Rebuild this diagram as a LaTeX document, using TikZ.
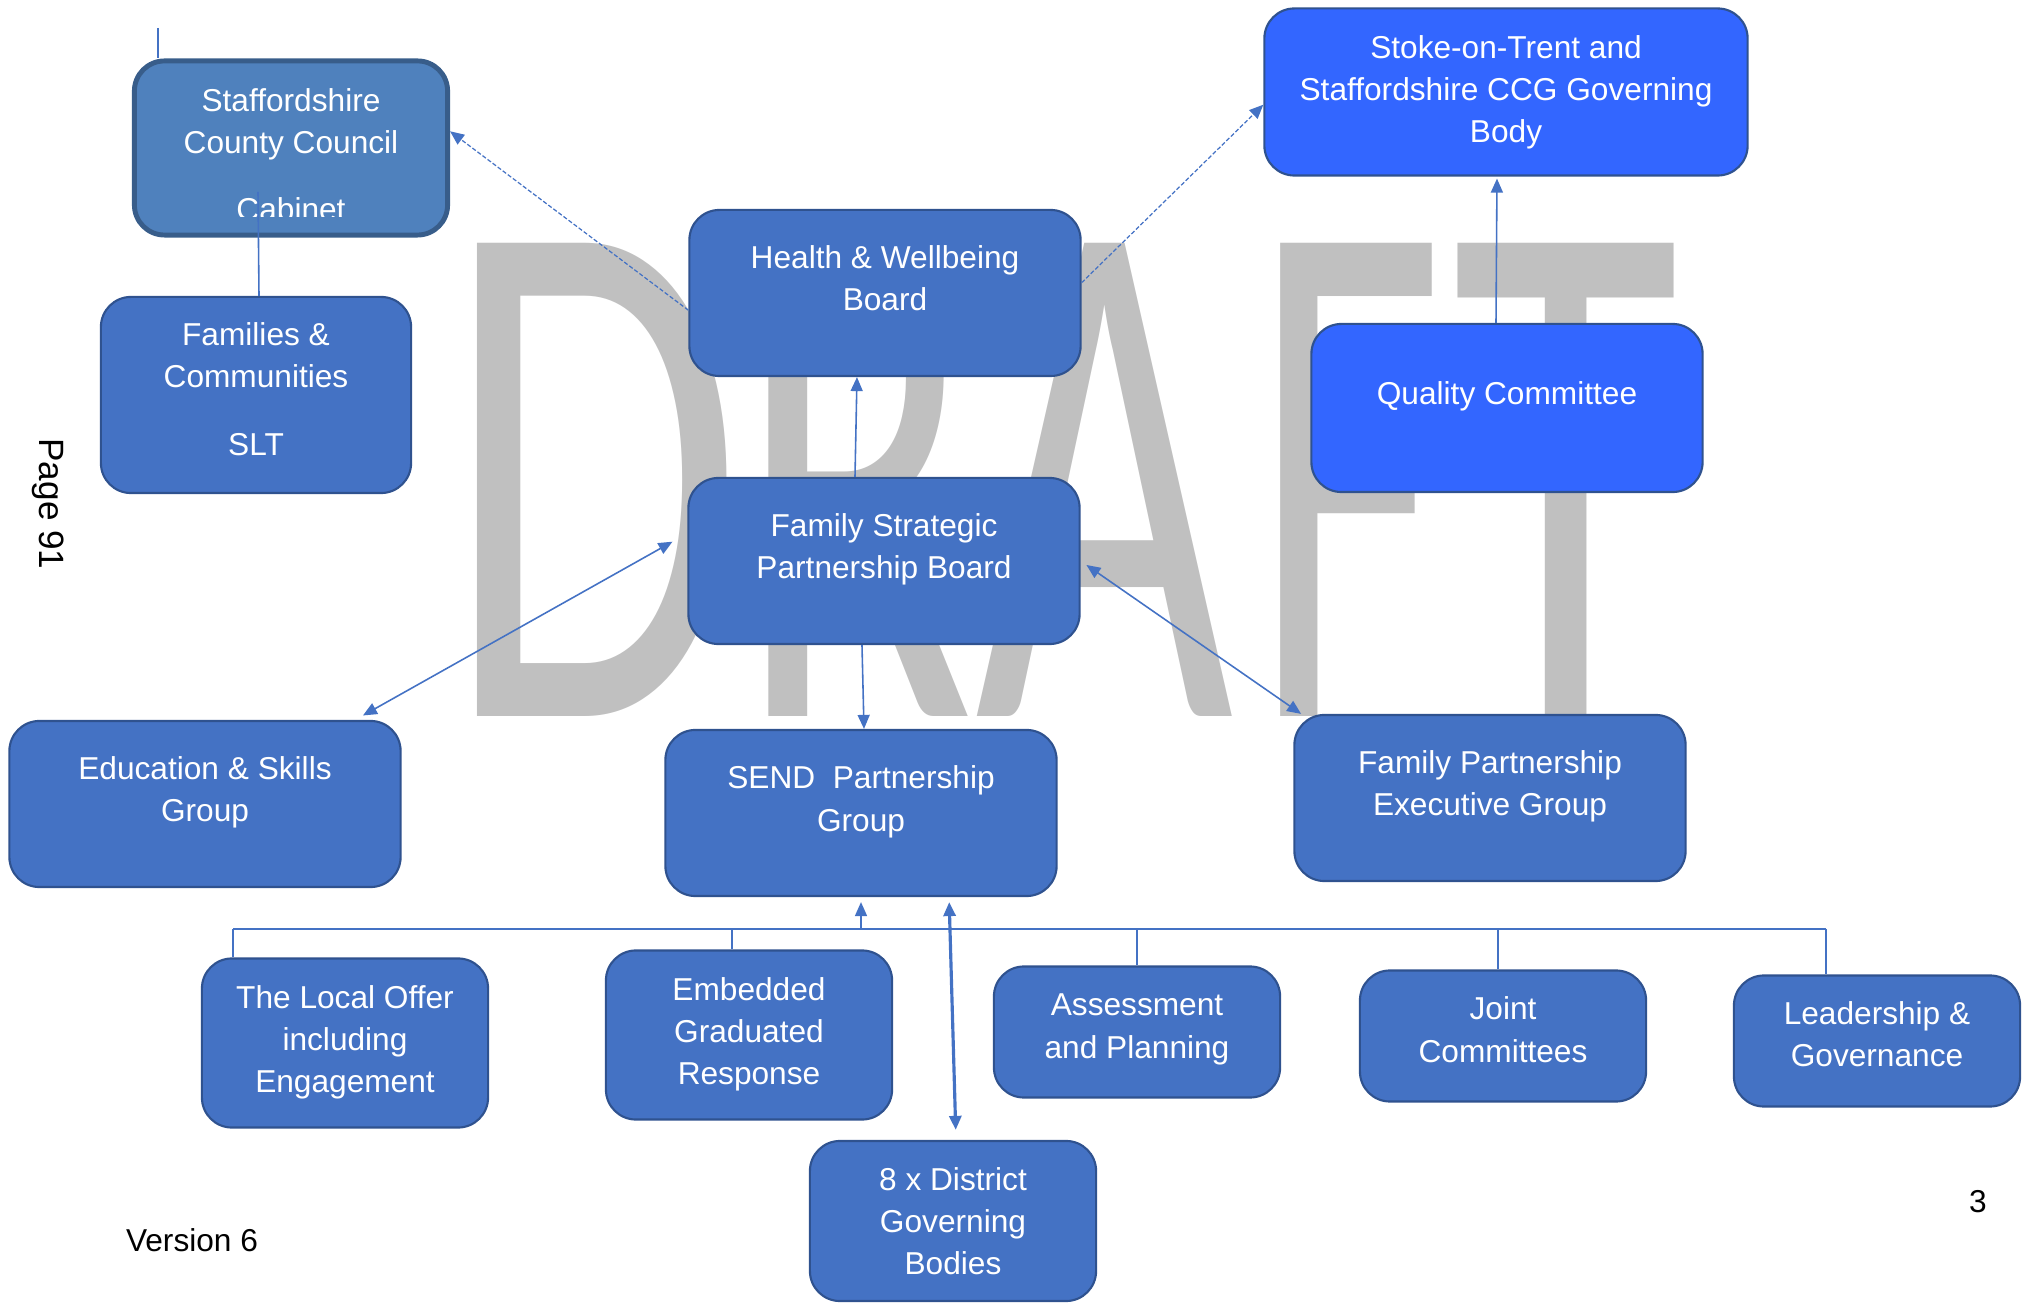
\documentclass[tikz,border=0pt]{standalone}
\usepackage{fontspec}
\setmainfont{Liberation Sans}
\newfontfamily\draftfont{Carlito}
\usetikzlibrary{positioning,calc,arrows.meta}

\definecolor{orgfill}{HTML}{4472C4}
\definecolor{orgline}{HTML}{2F528F}
\definecolor{ccgfill}{HTML}{3366FF}
\definecolor{cabfill}{HTML}{4F81BD}
\definecolor{cabline}{HTML}{385D8A}
\definecolor{wmgrey}{HTML}{C0C0C0}

\begin{document}
\begin{tikzpicture}[x=0.01cm,y=-0.01cm,
    >={Triangle[length=0.14cm,width=0.12cm]},
    org/.style={draw=orgline,line width=0.6pt,fill=orgfill,rounded corners=0.3cm,
        text=white,align=center,inner sep=0pt,font=\fontsize{9}{12}\selectfont,
        text height=6.3pt},
    two/.style={text height=18.3pt},
    three/.style={text height=36pt},
    wide/.style={org,minimum width=3.91cm,minimum height=1.66cm},
    narrow/.style={org,minimum width=2.86cm,minimum height=1.69cm},
    low/.style={narrow,minimum height=1.31cm},
    link/.style={draw=orgfill,line width=0.45pt,->},
    twoway/.style={link,<->},
    dotlink/.style={link,line width=0.35pt,dash pattern=on 1.2pt off 0.6pt},
    stem/.style={draw=orgfill,line width=0.45pt},
    wm/.style={text=wmgrey,inner sep=0pt,anchor=base,font=\draftfont\fontsize{138}{138}\selectfont}]

    \useasboundingbox (0,0) rectangle (2033,1304);

    % watermark behind everything
    \foreach \ch/\cx/\sx in {D/594/1,R/856/0.9,A/1105/0.92,F/1348/0.86,T/1566/0.96}
        \node[wm] (wm\ch) at (\cx,717) {\scalebox{\sx}[1.52]{\ch}};

    % boards and groups
    \node[org,fill=cabfill,draw=cabline,line width=1.4pt,minimum width=3.13cm,minimum height=1.74cm,
        text height=44pt,text depth=3pt]
        (cabinet) at (291,148) {Staffordshire\\County Council\\[7pt]Cabinet};
    \node[org,minimum width=3.10cm,minimum height=1.96cm,text height=42.3pt,text depth=7.7pt]
        (families) at (256,395) {Families \&\\Communities\\[7.5pt]SLT};
    \node[wide,two,text depth=8.5pt] (hwb) at (885,293) {Health \& Wellbeing\\Board};
    \node[wide,three,fill=ccgfill,minimum width=4.83cm,minimum height=1.67cm,text depth=7.3pt]
        (ccg) at (1506,92) {Stoke-on-Trent and\\Staffordshire CCG Governing\\Body};
    \node[wide,fill=ccgfill,minimum height=1.68cm,text depth=8.5pt] (quality) at (1507,408) {Quality Committee};
    \node[wide,two,text depth=8.5pt] (fspb) at (884,561) {Family Strategic\\Partnership Board};
    \node[wide,two,text depth=8.5pt] (edu) at (205,804) {Education \& Skills\\Group};
    \node[wide,two,text depth=8pt] (send) at (861,813) {SEND\ \ Partnership\\Group};
    \node[wide,two,text depth=8.5pt] (fpeg) at (1490,798) {Family Partnership\\Executive Group};

    % workstreams under SEND
    \node[narrow,three,text depth=7.9pt] (offer) at (345,1043) {The Local Offer\\including\\Engagement};
    \node[narrow,three,text depth=7.9pt] (graduated) at (749,1035) {Embedded\\Graduated\\Response};
    \node[low,two,text depth=3.4pt] (assess) at (1137,1032) {Assessment\\and Planning};
    \node[low,two,text depth=3.4pt] (joint) at (1503,1036) {Joint\\Committees};
    \node[low,two,text depth=3.9pt] (leads) at (1877,1041) {Leadership \&\\Governance};
    \node[narrow,three,minimum height=1.60cm,text depth=5.6pt] (district) at (953,1221) {8 x District\\Governing\\Bodies};

    % cut off the lower part of the last cabinet line
    \fill[cabfill] ($(cabinet.south)+(-70,-6)$) rectangle ($(cabinet.south)+(70,-21)$);

    % links between boards
    \coordinate (stub) at (158,28);
    \draw[stem] (stub) -- (stub |- cabinet.north);
    \draw[stem] ([xshift=0.03cm]families.north) -- ($(cabinet.center)+(-33,44)$);
    \draw[dotlink] (hwb.185) -- (cabinet.6);
    \draw[dotlink] (hwb.3) -- (ccg.183);
    \draw[link,shorten >=0.02cm] ([xshift=-0.11cm]quality.north) -- ([xshift=-0.09cm]ccg.south);
    \draw[link] ([xshift=-0.29cm]fspb.north) -- ([xshift=-0.28cm]hwb.south);
    \draw[link] ([xshift=-0.22cm]fspb.south) -- ([xshift=0.03cm]send.north);
    \draw[twoway,shorten <=0.17cm,shorten >=0.09cm] (fspb.172) -- ([xshift=1.50cm]edu.north);
    \draw[twoway,shorten <=0.07cm] (fspb.east) -- (fpeg.156);

    % bus to the workstreams
    \coordinate (busL) at (233,929);
    \coordinate (busR) at (1826,929);
    \draw[stem,line width=0.8pt] (busL) -- (busR);
    \foreach \x/\b in {233/offer,732/graduated,1137/assess,1498/joint,1826/leads}{
        \coordinate (drop\b) at (\x,929);
        \draw[stem] (drop\b) -- (drop\b |- \b.north);
    }
    \draw[link,shorten >=0.05cm] (send.south |- busL) -- (send.south);
    \draw[twoway,line width=0.9pt,shorten <=0.05cm,shorten >=0.1cm]
        ([xshift=0.88cm]send.south) -- ([xshift=0.03cm]district.north);

    % page furniture
    \node[rotate=-90,font=\fontsize{10}{12}\selectfont] (pageno) at (48,504) {Page 91};
    \node[font=\fontsize{9}{12}\selectfont] (version) at (192,1240) {Version 6};
    \node[font=\fontsize{9}{12}\selectfont] (sheet) at (1978,1202) {3};
\end{tikzpicture}
\end{document}
